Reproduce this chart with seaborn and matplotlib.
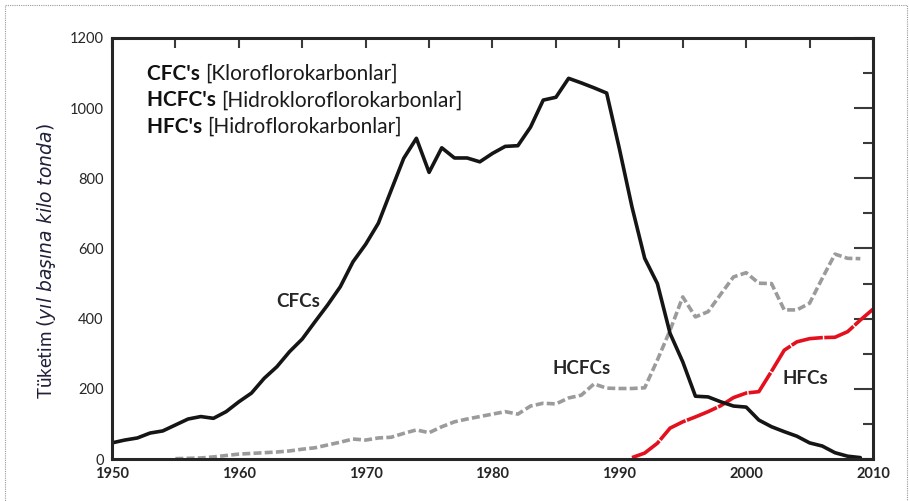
import pandas as pd
import seaborn as sns
import matplotlib.pyplot as plt
from matplotlib.patches import Rectangle
from matplotlib.ticker import MultipleLocator

# data (kilotonnes per year)
cfc_years = list(range(1950, 2010))
cfc_values = [46, 54, 60, 74, 80, 97, 114, 121, 116, 135,
              163, 188, 230, 263, 306, 342, 391, 439, 491, 562,
              612, 672, 765, 857, 914, 817, 887, 858, 858, 847,
              871, 891, 893, 946, 1023, 1031, 1085, 1072, 1058, 1043,
              885, 718, 572, 500, 358, 277, 179, 177, 163, 151,
              148, 111, 92, 78, 65, 46, 37, 18, 8, 4]

hcfc_years = list(range(1955, 2010))
hcfc_values = [1, 2, 3, 6, 10,
               14, 16, 18, 20, 23, 28, 32, 40, 48, 57,
               54, 60, 62, 73, 83, 75, 92, 106, 114, 121,
               128, 135, 128, 151, 159, 157, 174, 182, 214, 202,
               201, 201, 203, 282, 367, 462, 405, 420, 470, 519,
               531, 501, 500, 425, 425, 444, 515, 584, 572, 571]

hfc_years = list(range(1991, 2011))
hfc_values = [4, 17, 45, 88, 106, 120, 135, 152, 175, 188,
              192, 250, 310, 334, 343, 346, 347, 363, 396, 427]

legend_bold = ["CFC's", "HCFC's", "HFC's"]
legend_rest = ["[Kloroflorokarbonlar]", "[Hidrokloroflorokarbonlar]", "[Hidroflorokarbonlar]"]

sns.set_style('white')
plt.rcParams['font.family'] = ['Lato', 'DejaVu Sans']

fig = plt.figure(figsize=(9.09, 5.01), dpi=100)
ax = fig.add_axes([0.1232, 0.0838, 0.8372, 0.8404])

# dotted frame around the whole picture
fig.patches.append(Rectangle((5 / 909, -0.05), 902 / 909, 1.04, transform=fig.transFigure,
                             fill=False, linestyle=(0, (1, 1)), linewidth=0.8,
                             edgecolor='#9a9a9a'))

cfc = pd.DataFrame({'year': cfc_years, 'value': cfc_values})
hcfc = pd.DataFrame({'year': hcfc_years, 'value': hcfc_values})
hfc = pd.DataFrame({'year': hfc_years, 'value': hfc_values})

sns.lineplot(data=hcfc, x='year', y='value', ax=ax, color='#9b9b9b', linewidth=2.6,
             linestyle=(0, (2.2, 0.9)))
sns.lineplot(data=hfc, x='year', y='value', ax=ax, color='#e3101e', linewidth=2.6,
             linestyle=(0, (9, 0.4)))
sns.lineplot(data=cfc, x='year', y='value', ax=ax, color='#151515', linewidth=2.6)

ax.set_xlim(1950, 2010)
ax.set_ylim(0, 1200)
ax.xaxis.set_major_locator(MultipleLocator(10))
ax.xaxis.set_minor_locator(MultipleLocator(5))
ax.yaxis.set_major_locator(MultipleLocator(200))
ax.yaxis.set_minor_locator(MultipleLocator(100))
ax.tick_params(axis='both', which='both', direction='in', top=True, right=True,
               color='#3a3a3a', width=1.5, labelsize=10.5, labelcolor='#262626', pad=6)
ax.tick_params(axis='y', which='major', length=14)
ax.tick_params(axis='y', which='minor', length=7)
ax.tick_params(axis='x', which='both', length=7)
ax.set_xticklabels([str(int(t)) for t in ax.get_xticks()], fontweight='bold')
ax.set_yticklabels([str(int(t)) for t in ax.get_yticks()])
for s in ax.spines.values():
    s.set_color('#262626')
    s.set_linewidth(2.2)

ax.set_xlabel('')
ax.set_ylabel('')
ax.text(-0.0855, 0.47, 'Tüketim $\\it{(yıl\\ başına\\ kilo\\ tonda)}$', rotation=90,
        transform=ax.transAxes, ha='center', va='center', fontsize=13.5, color='#1f1f3a')

# legend-like header
y0 = 0.915
for i, (b, r) in enumerate(zip(legend_bold, legend_rest)):
    t = ax.text(0.046, y0 - i * 0.063, b + ' ', transform=ax.transAxes, fontsize=15,
                fontweight='bold', va='center', color='#111111')
    fig.canvas.draw()
    bb = t.get_window_extent().transformed(ax.transAxes.inverted())
    ax.text(bb.x1, y0 - i * 0.063, r, transform=ax.transAxes, fontsize=15,
            va='center', color='#1a1a1a')

ax.text(1964.7, 450, 'CFCs', fontsize=13.5, fontweight='bold', ha='center', va='center')
ax.text(1987.0, 258, 'HCFCs', fontsize=13.5, fontweight='bold', ha='center', va='center')
ax.text(2004.7, 230, 'HFCs', fontsize=13.5, fontweight='bold', ha='center', va='center')

fig.savefig('out.png', dpi=100)
